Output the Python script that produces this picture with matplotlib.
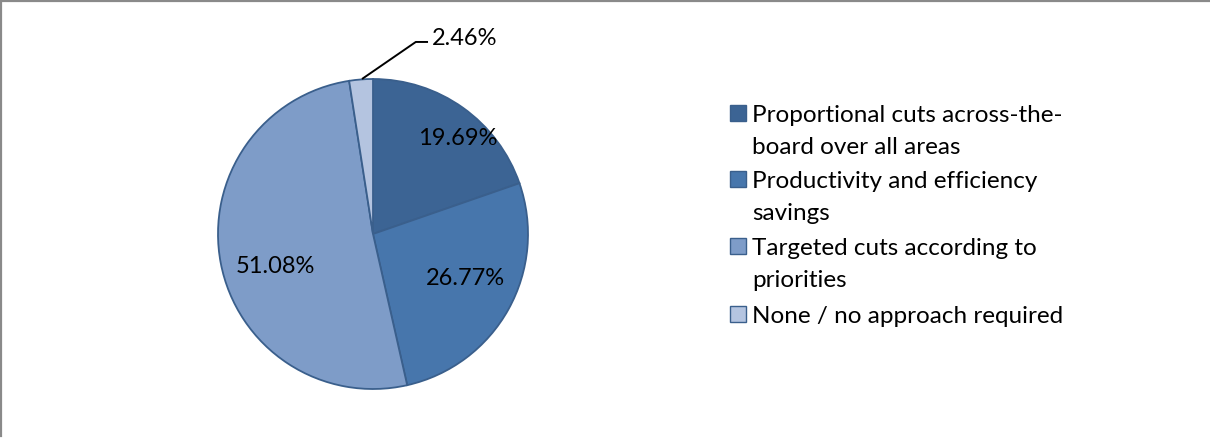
import matplotlib
matplotlib.use("Agg")
import matplotlib.pyplot as plt
from matplotlib.patches import Rectangle
from matplotlib.lines import Line2D

# Survey responses: preferred approach to spending cuts
categories = [
    "Proportional cuts across-the-\nboard over all areas",
    "Productivity and efficiency\nsavings",
    "Targeted cuts according to\npriorities",
    "None / no approach required",
]
shares = [19.69, 26.77, 51.08, 2.46]
colors = ["#3C6494", "#4776AC", "#7E9CC8", "#B4C4E0"]

W, H = 1210, 439
fig = plt.figure(figsize=(W / 100, H / 100), dpi=100)
fig.patch.set_facecolor("white")

# Axes spanning the whole figure, in pixel units (y upward)
ax = fig.add_axes([0, 0, 1, 1])

cx, cy, r = 373, H - 235, 155
wedges, _ = ax.pie(
    shares,
    colors=colors,
    startangle=90,
    counterclock=False,
    center=(cx, cy),
    radius=r,
    frame=True,
    wedgeprops=dict(edgecolor="#3A5F8C", linewidth=1.3),
)
ax.set_xlim(0, W)
ax.set_ylim(0, H)
ax.set_axis_off()

font = "Lato"
pct_size = 17

# Percentage labels: baseline positions in radius units relative to the pie centre
label_offsets = [(0.548, 0.581), (0.594, -0.323), (-0.632, -0.245)]
for val, (ox, oy) in zip(shares[:3], label_offsets):
    ax.text(cx + ox * r, cy + oy * r, f"{val:.2f}%", ha="center", va="baseline",
            fontsize=pct_size, family=font, color="black")

# Small slice: label outside with a leader line
ax.plot([cx - 0.071 * r, cx + 0.276 * r, cx + 0.355 * r],
        [cy + 1.0 * r, cy + 1.239 * r, cy + 1.239 * r],
        color="black", linewidth=1.4, solid_capstyle="butt")
ax.text(cx + 0.381 * r, cy + 1.226 * r, f"{shares[3]:.2f}%", ha="left", va="baseline",
        fontsize=pct_size, family=font, color="black")

# Legend drawn by hand so the swatch aligns with the first text line
row_baselines = [122, 188, 255, 323]
line_step = 32
for label, col, yb in zip(categories, colors, row_baselines):
    fig.patches.append(Rectangle((730 / W, (H - yb) / H), 16 / W, 16 / H,
                                 transform=fig.transFigure, facecolor=col,
                                 edgecolor="#3A5F8C", linewidth=1.0))
    for i, line in enumerate(label.split("\n")):
        fig.text(752 / W, (H - yb - i * line_step) / H, line, ha="left", va="baseline",
                 fontsize=17.5, family=font, color="black")

# Partial chart frame along top and left edges
fig.add_artist(Line2D([0, 1], [1 - 1.5 / H, 1 - 1.5 / H], transform=fig.transFigure,
                      color="#8A8A8A", linewidth=1.6))
fig.add_artist(Line2D([1.0 / W, 1.0 / W], [1 - 1.5 / H, 2 / H], transform=fig.transFigure,
                      color="#8A8A8A", linewidth=1.6))

fig.savefig("out.png", dpi=100, facecolor="white")
